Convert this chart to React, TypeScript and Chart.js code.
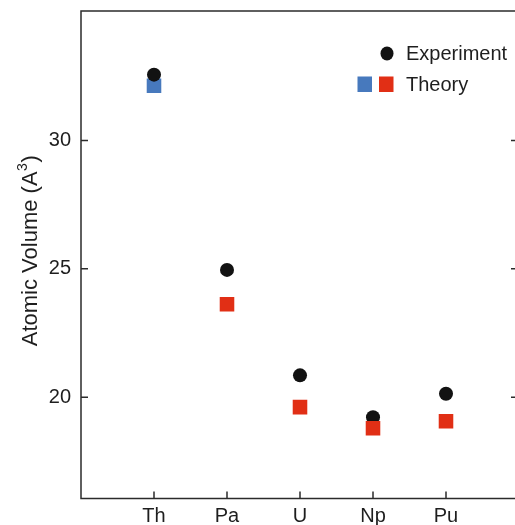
import React, { useEffect, useRef } from "react";
import { Chart, registerables } from "chart.js";

Chart.register(...registerables);

// ---- data ----
const categories = ["Th", "Pa", "U", "Np", "Pu"];
const experiment = [32.57, 24.96, 20.85, 19.22, 20.13];
const theoryBlue = [32.14, null, null, null, null];
const theoryRed = [null, 23.62, 19.61, 18.79, 19.06];
const yTickValues = [20, 25, 30];
const yMin = 16.05;
const yMax = 35.05;
const xMin = 0;
const xMax = 6;
const yTitle = "Atomic Volume (A";
const yTitleSup = "3";

const FONT = "'Liberation Sans', Arial, Helvetica, sans-serif";
const AXIS_COLOR = "#2b2b2b";
const TEXT_COLOR = "#1e1e1e";
const BLUE = "#4779bd";
const RED = "#e12f15";
const BLACK = "#121212";

const toPoints = (vals: (number | null)[]) =>
  vals
    .map((v, i) => (v == null ? null : { x: i + 1, y: v }))
    .filter((p) => p !== null) as { x: number; y: number }[];

const framePlugin = {
  id: "frame",
  afterDraw(chart: any) {
    const { ctx, chartArea, scales } = chart;
    const { left, right, top, bottom } = chartArea;
    ctx.save();
    ctx.strokeStyle = AXIS_COLOR;
    ctx.lineWidth = 1.5;
    ctx.strokeRect(left, top, right - left, bottom - top);
    ctx.beginPath();
    yTickValues.forEach((v) => {
      const py = scales.y.getPixelForValue(v);
      ctx.moveTo(left, py);
      ctx.lineTo(left + 7, py);
      ctx.moveTo(right, py);
      ctx.lineTo(right - 8, py);
    });
    categories.forEach((_, i) => {
      const px = scales.x.getPixelForValue(i + 1);
      ctx.moveTo(px, bottom);
      ctx.lineTo(px, bottom - 7);
    });
    ctx.stroke();

    // y-axis title with superscript
    const cy = (top + bottom) / 2 - 4;
    ctx.translate(36.5, cy);
    ctx.rotate(-Math.PI / 2);
    ctx.fillStyle = TEXT_COLOR;
    ctx.textBaseline = "alphabetic";
    ctx.textAlign = "left";
    const mainFont = `22px ${FONT}`;
    const supFont = `14px ${FONT}`;
    ctx.font = mainFont;
    const w1 = ctx.measureText(yTitle).width;
    const w3 = ctx.measureText(")").width;
    ctx.font = supFont;
    const w2 = ctx.measureText(yTitleSup).width;
    const total = w1 + w2 + 1 + w3;
    let x0 = -total / 2;
    ctx.font = mainFont;
    ctx.fillText(yTitle, x0, 0);
    x0 += w1;
    ctx.font = supFont;
    ctx.fillText(yTitleSup, x0 + 0.5, -10);
    x0 += w2 + 1;
    ctx.font = mainFont;
    ctx.fillText(")", x0, 0);
    ctx.restore();
  },
};

const legendPlugin = {
  id: "customLegend",
  afterDraw(chart: any) {
    const { ctx } = chart;
    ctx.save();
    ctx.font = `20px ${FONT}`;
    ctx.textAlign = "left";
    ctx.textBaseline = "alphabetic";
    // Experiment
    ctx.beginPath();
    ctx.fillStyle = BLACK;
    ctx.ellipse(387, 53.5, 6.5, 7, 0, 0, Math.PI * 2);
    ctx.fill();
    ctx.fillStyle = TEXT_COLOR;
    ctx.fillText("Experiment", 406, 60);
    // Theory
    ctx.fillStyle = BLUE;
    ctx.fillRect(357.5, 76.5, 14.5, 15.5);
    ctx.fillStyle = RED;
    ctx.fillRect(379, 76.5, 14.5, 15.5);
    ctx.fillStyle = TEXT_COLOR;
    ctx.fillText("Theory", 406, 91);
    ctx.restore();
  },
};

export default function App() {
  const canvasRef = useRef<HTMLCanvasElement | null>(null);

  useEffect(() => {
    if (!canvasRef.current) return;
    const chart = new Chart(canvasRef.current, {
      type: "scatter",
      data: {
        datasets: [
          {
            label: "Theory",
            data: toPoints(theoryRed),
            pointStyle: "rect",
            pointRadius: 10.3,
            pointHoverRadius: 10.3,
            backgroundColor: RED,
            borderColor: RED,
            borderWidth: 0,
          },
          {
            label: "Experiment",
            data: toPoints(experiment),
            pointStyle: "circle",
            pointRadius: 7,
            pointHoverRadius: 7,
            backgroundColor: BLACK,
            borderColor: BLACK,
            borderWidth: 0,
          },
          {
            label: "Theory (Th)",
            data: toPoints(theoryBlue),
            pointStyle: "rect",
            pointRadius: 10.3,
            pointHoverRadius: 10.3,
            backgroundColor: BLUE,
            borderColor: BLUE,
            borderWidth: 0,
          },
        ],
      },
      options: {
        responsive: false,
        animation: false,
        layout: { padding: { top: 11, left: 0, right: 21, bottom: 0 } },
        plugins: {
          legend: { display: false },
          tooltip: { enabled: false },
        },
        scales: {
          x: {
            type: "linear",
            min: xMin,
            max: xMax,
            grid: { display: false, drawTicks: false },
            border: { display: false },
            afterFit: (scale: any) => {
              scale.height = 41.5;
              scale.paddingLeft = 0;
              scale.paddingRight = 0;
              scale.paddingTop = 0;
              scale.paddingBottom = 0;
            },
            afterBuildTicks: (scale: any) => {
              scale.ticks = categories.map((_, i) => ({ value: i + 1 }));
            },
            ticks: {
              padding: 6,
              color: TEXT_COLOR,
              font: { family: FONT, size: 20 },
              callback: (v: any) => categories[Number(v) - 1] ?? "",
            },
          },
          y: {
            type: "linear",
            min: yMin,
            max: yMax,
            grid: { display: false, drawTicks: false },
            border: { display: false },
            afterFit: (scale: any) => {
              scale.width = 81;
              scale.paddingLeft = 0;
              scale.paddingRight = 0;
              scale.paddingTop = 0;
              scale.paddingBottom = 0;
            },
            afterBuildTicks: (scale: any) => {
              scale.ticks = yTickValues.map((v) => ({ value: v }));
            },
            ticks: {
              padding: 10,
              color: TEXT_COLOR,
              font: { family: FONT, size: 20 },
            },
          },
        },
      },
      plugins: [framePlugin, legendPlugin],
    });
    return () => chart.destroy();
  }, []);

  return (
    <div style={{ position: "fixed", left: 0, top: 0, width: 540, height: 540 }}>
      <canvas ref={canvasRef} width={540} height={540} />
    </div>
  );
}
